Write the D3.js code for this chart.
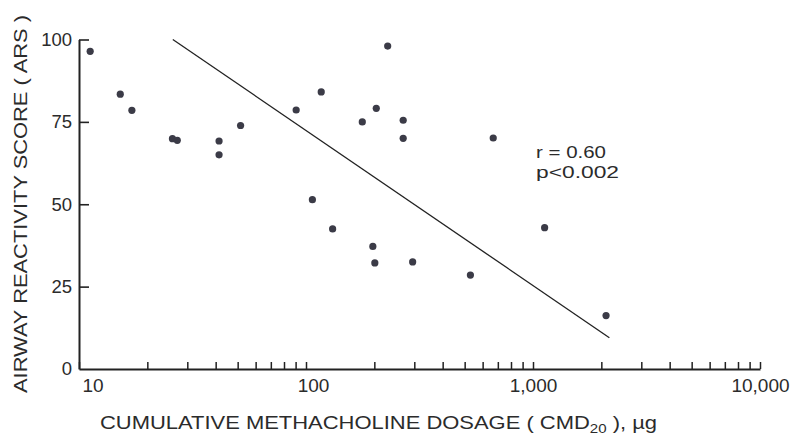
<!DOCTYPE html>
<html lang="en">
	<head>
		<meta charset="utf-8">
		<title>ARS vs CMD20</title>
		<style type="text/css">
			body { margin: 0; background: #ffffff; }
			svg text { font-family: "Liberation Sans", Arial, sans-serif; fill: #2b2b2b; }
		</style>
	</head>
	<body>
		<script src="https://d3js.org/d3.v7.min.js"></script>
		<script type="text/javascript">
			//Width and height
			var w = 795;
			var h = 437;

			//Data
			var dosage = [11.2, 15.2, 17.1, 25.8, 27.1, 41.4, 41.4, 51.5, 90.5, 106.7, 116.7, 131,
						  177, 197, 201, 204, 229, 268, 268, 295, 530, 668, 1125, 2098];
			var score = [96.4, 83.4, 78.5, 69.9, 69.4, 69.2, 65.0, 73.9, 78.6, 51.4, 84.1, 42.5,
						 75.0, 37.2, 32.2, 79.1, 98.0, 75.5, 70.0, 32.5, 28.5, 70.1, 42.9, 16.2];

			//Regression line end points
			var fitX = [25.9, 2170];
			var fitY = [100, 9.5];

			var yTicks = [0, 25, 50, 75, 100];
			var xLabels = [10, 100, 1000, 10000];
			var stats = ["r = 0.60", "p<0.002"];

			//Scales
			var xScale = d3.scaleLog()
							.domain([10, 10000])
							.range([79, 760]);

			var yScale = d3.scaleLinear()
							.domain([0, 100])
							.range([369, 39.5]);

			var svg = d3.select("body")
						.append("svg")
						.attr("width", w)
						.attr("height", h);

			//minor ticks 1..9 in every decade
			var xTickVals = [];
			[10, 100, 1000].forEach(function(d) {
				for (var i = 1; i < 10; i++) xTickVals.push(d * i);
			});
			xTickVals.push(10000);

			var xAxis = d3.axisBottom(xScale)
						  .tickValues(xTickVals)
						  .tickSizeInner(-7)
						  .tickSizeOuter(0)
						  .tickPadding(10)
						  .tickFormat(function(d) {
						  	return xLabels.indexOf(d) >= 0 ? d3.format(",")(d) : "";
						  });

			var gx = svg.append("g")
						.attr("transform", "translate(0," + yScale(0) + ")")
						.call(xAxis);
			gx.select(".domain").attr("stroke", "#222").attr("stroke-width", 2);
			gx.selectAll(".tick line").attr("stroke", "#222").attr("stroke-width", 1.5);
			gx.selectAll(".tick text")
			  .attr("font-size", "19px")
			  .attr("fill", "#2b2b2b")
			  .attr("font-family", null);
			gx.selectAll(".tick text")
			  .filter(function(d) { return d === 10; })
			  .attr("text-anchor", "start")
			  .attr("x", 3);
			gx.selectAll(".tick text")
			  .filter(function(d) { return d === 100; })
			  .attr("x", 7);

			var yAxis = d3.axisLeft(yScale)
						  .tickValues(yTicks)
						  .tickSizeInner(-10)
						  .tickSizeOuter(0)
						  .tickPadding(7);

			var gy = svg.append("g")
						.attr("transform", "translate(" + xScale(10) + ",0)")
						.call(yAxis);
			gy.select(".domain").attr("stroke", "#222").attr("stroke-width", 2);
			gy.selectAll(".tick line")
			  .attr("stroke", "#222")
			  .attr("stroke-width", 1.6)
			  .filter(function(d) { return d === 0; })
			  .remove();
			gy.selectAll(".tick text")
			  .attr("font-size", "18.5px")
			  .attr("fill", "#2b2b2b")
			  .attr("font-family", null);

			//Regression line
			svg.append("line")
			   .attr("x1", xScale(fitX[0]))
			   .attr("y1", yScale(fitY[0]))
			   .attr("x2", xScale(fitX[1]))
			   .attr("y2", yScale(fitY[1]))
			   .attr("stroke", "#222")
			   .attr("stroke-width", 1.3);

			//Points
			svg.selectAll("circle")
			   .data(dosage)
			   .enter()
			   .append("circle")
			   .attr("cx", function(d) {
			   		return xScale(d);
			   })
			   .attr("cy", function(d, i) {
			   		return yScale(score[i]);
			   })
			   .attr("r", 3.6)
			   .attr("fill", "#3b3b47");

			//r and p
			var statLen = [70, 83];
			svg.selectAll("text.stat")
			   .data(stats)
			   .enter()
			   .append("text")
			   .attr("class", "stat")
			   .attr("x", 536)
			   .attr("y", function(d, i) { return 158 + i * 20; })
			   .attr("font-size", "17px")
			   .attr("textLength", function(d, i) { return statLen[i]; })
			   .attr("lengthAdjust", "spacingAndGlyphs")
			   .text(function(d) { return d; });

			//X title
			var xt = svg.append("text")
						.attr("x", 100)
						.attr("y", 429)
						.attr("font-size", "17.5px")
						.attr("textLength", 557)
						.attr("lengthAdjust", "spacingAndGlyphs");
			xt.append("tspan").text("CUMULATIVE  METHACHOLINE  DOSAGE  ( CMD");
			xt.append("tspan").attr("dy", 4).attr("font-size", "12px").text("20");
			xt.append("tspan").attr("dy", -4).text(" ), \u00b5g");

			//Y title
			svg.append("text")
			   .attr("transform", "translate(27,204) rotate(-90)")
			   .attr("text-anchor", "middle")
			   .attr("font-size", "17.5px")
			   .attr("textLength", 378)
			   .attr("lengthAdjust", "spacingAndGlyphs")
			   .text("AIRWAY  REACTIVITY  SCORE  ( ARS )");
		</script>
	</body>
</html>
